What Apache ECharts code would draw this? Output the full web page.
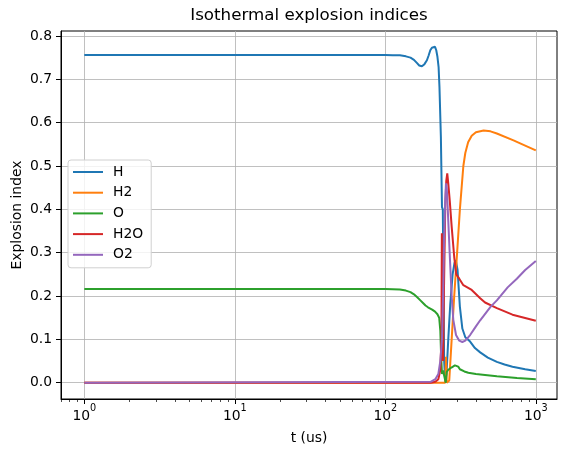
<!DOCTYPE html>
<html>
<head>
<meta charset="utf-8">
<script src="https://cdn.jsdelivr.net/npm/echarts@6/dist/echarts.min.js"></script>
<style>html,body{margin:0;padding:0;background:#fff}#c{width:567px;height:457px}</style>
</head>
<body>
<div id="c"></div>
<script>
// ---- data (t in microseconds, explosion index) ----
const seriesNames = ['H', 'H2', 'O', 'H2O', 'O2'];
const xTickValues = [1, 10, 100, 1000];
const yTickValues = [0, 0.1, 0.2, 0.3, 0.4, 0.5, 0.6, 0.7, 0.8];

const H_t = [1, 100, 112, 125, 137, 147, 155, 162, 168, 175, 182, 189, 194, 199, 204, 209, 214, 218, 222, 226, 229, 234, 238, 241, 246, 250, 255, 262, 270, 280, 288, 294, 302, 313, 325, 340, 366, 394, 427, 480, 551, 620, 700, 850, 1000];
const H_v = [0.756, 0.756, 0.7558, 0.7553, 0.753, 0.750, 0.745, 0.738, 0.732, 0.730, 0.735, 0.744, 0.755, 0.767, 0.773, 0.776, 0.775, 0.767, 0.752, 0.728, 0.682, 0.567, 0.405, 0.400, 0.05, 0.005, 0.02, 0.10, 0.18, 0.25, 0.276, 0.283, 0.26, 0.175, 0.125, 0.105, 0.095, 0.08, 0.07, 0.058, 0.048, 0.042, 0.037, 0.031, 0.027];

const H2_t = [1, 240, 250, 253, 256, 262, 266, 276, 287, 300, 313, 330, 340, 355, 375, 400, 450, 500, 551, 711, 850, 1000];
const H2_v = [0, 0, 0, 0.06, 0, 0, 0.005, 0.1, 0.2, 0.3, 0.4, 0.5, 0.53, 0.555, 0.57, 0.578, 0.582, 0.58, 0.575, 0.559, 0.547, 0.536];

const O_t = [1, 100, 112, 125, 137, 147, 155, 163, 171, 178, 185, 192, 199, 206, 214, 222, 228, 232, 235, 238, 242, 247, 252, 256, 262, 275, 290, 298, 305, 313, 335, 356, 400, 460, 551, 750, 1000];
const O_v = [0.216, 0.216, 0.2158, 0.2150, 0.2125, 0.209, 0.204, 0.197, 0.190, 0.184, 0.178, 0.174, 0.171, 0.168, 0.164, 0.158, 0.150, 0.120, 0.060, 0.020, 0.028, 0.030, 0.0, 0.025, 0.030, 0.035, 0.040, 0.043, 0.037, 0.031, 0.026, 0.023, 0.020, 0.018, 0.015, 0.011, 0.008];

const H2O_t = [1, 200, 215, 225, 232, 236, 237.5, 239, 242, 245, 250, 254, 258, 262, 268, 276, 287, 296, 300, 310, 330, 375, 427, 460, 551, 700, 1000];
const H2O_v = [0, 0, 0.002, 0.008, 0.03, 0.1, 0.345, 0.08, 0.05, 0.2, 0.4, 0.465, 0.483, 0.46, 0.42, 0.36, 0.29, 0.25, 0.248, 0.24, 0.225, 0.214, 0.195, 0.185, 0.172, 0.157, 0.143];

const O2_t = [1, 200, 215, 225, 232, 238, 242, 246, 250, 253, 256, 260, 269, 276, 283, 295, 310, 325, 340, 366, 400, 427, 500, 551, 650, 748, 850, 1000];
const O2_v = [0, 0.002, 0.008, 0.02, 0.05, 0.1, 0.2, 0.33, 0.42, 0.46, 0.45, 0.40, 0.283, 0.2, 0.145, 0.11, 0.097, 0.094, 0.097, 0.11, 0.13, 0.144, 0.175, 0.19, 0.22, 0.24, 0.26, 0.281];

const colors = ['#1f77b4', '#ff7f0e', '#2ca02c', '#d62728', '#9467bd'];
const tArrays = [H_t, H2_t, O_t, H2O_t, O2_t];
const vArrays = [H_v, H2_v, O_v, H2O_v, O2_v];

// minor ticks on the log axis: 2..9 x 10^k
const minorTicks = [];
[0.1, 1, 10, 100, 1000].forEach(d => { for (let k = 2; k <= 9; k++) minorTicks.push(d * k); });

const chart = echarts.init(document.getElementById('c'), null, {renderer: 'canvas'});
const FONT = 'DejaVu Sans';
const xMin = 0.6998, xMax = 1383;

const series = seriesNames.map((n, i) => ({
  name: n,
  type: 'line',
  xAxisIndex: 0,
  symbol: 'none',
  smooth: false,
  animation: false,
  lineStyle: {width: 2, color: colors[i]},
  itemStyle: {color: colors[i]},
  data: tArrays[i].map((t, j) => [t, vArrays[i][j]])
}));

chart.setOption({
  animation: false,
  backgroundColor: '#fff',
  textStyle: {fontFamily: FONT},
  grid: {left: 61, right: 10, top: 31, bottom: 58, show: true, borderColor: '#000', borderWidth: 1, backgroundColor: 'transparent'},
  xAxis: [{
    type: 'log', logBase: 10, min: xMin, max: xMax,
    axisLine: {show: true, onZero: false, lineStyle: {color: '#000', width: 1}},
    axisTick: {show: true, customValues: xTickValues, length: 5, inside: false, lineStyle: {color: '#000', width: 1}},
    axisLabel: {
      show: true, customValues: xTickValues, margin: 4,
      formatter: v => '{b|10}{s|' + Math.round(Math.log10(v)) + '}',
      rich: {
        b: {fontSize: 13.9, fontFamily: FONT, color: '#000', lineHeight: 20, verticalAlign: 'bottom'},
        s: {fontSize: 9.7, fontFamily: FONT, color: '#000', lineHeight: 12, verticalAlign: 'top'}
      }
    },
    splitLine: {show: true, lineStyle: {color: '#b0b0b0', width: 0.8}},
    minorTick: {show: false}
  }, {
    type: 'log', logBase: 10, min: xMin, max: xMax, position: 'bottom',
    axisLine: {show: false, onZero: false},
    axisTick: {show: true, customValues: minorTicks, length: 3, lineStyle: {color: '#000', width: 0.7}},
    axisLabel: {show: false},
    splitLine: {show: false}
  }],
  yAxis: {
    type: 'value', min: -0.0376, max: 0.8115,
    axisLine: {show: true, onZero: false, lineStyle: {color: '#000', width: 1}},
    axisTick: {show: true, customValues: yTickValues, length: 5, lineStyle: {color: '#000', width: 1}},
    axisLabel: {show: true, customValues: yTickValues, margin: 9, fontSize: 13.9, fontFamily: FONT, color: '#000', formatter: v => v.toFixed(1)},
    splitLine: {show: true, lineStyle: {color: '#b0b0b0', width: 0.8}}
  },
  legend: {
    orient: 'vertical', left: 68, top: 160,
    padding: [5, 8, 6, 5], itemGap: 6.7, itemWidth: 30, itemHeight: 14,
    icon: 'path://M0,0 M0,6 L30,6 L30,8 L0,8 Z M30,14',
    backgroundColor: 'rgba(255,255,255,0.8)', borderColor: '#d0d0d0', borderWidth: 1, borderRadius: 3,
    textStyle: {fontSize: 13.9, fontFamily: FONT, color: '#000', padding: [0, 0, 0, 5]},
    data: seriesNames
  },
  graphic: [
    {type: 'text', style: {text: 'Isothermal explosion indices', fontSize: 16.7, fontFamily: FONT, fill: '#000', x: 309, y: 16, align: 'center', verticalAlign: 'middle'}},
    {type: 'text', style: {text: 't (us)', fontSize: 13.9, fontFamily: FONT, fill: '#000', x: 309, y: 438, align: 'center', verticalAlign: 'middle'}},
    {type: 'text', rotation: Math.PI / 2, x: 17, y: 215, style: {text: 'Explosion index', fontSize: 13.9, fontFamily: FONT, fill: '#000', x: 0, y: 0, align: 'center', verticalAlign: 'middle'}}
  ],
  series: series
});
</script>
</body>
</html>
